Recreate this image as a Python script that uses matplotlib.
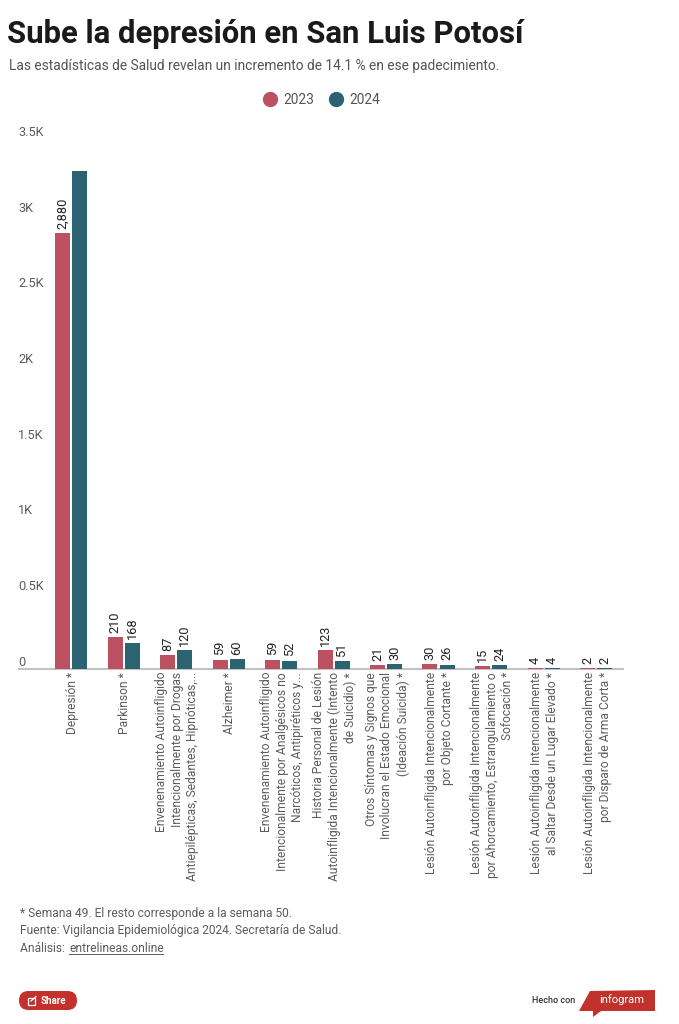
import matplotlib
matplotlib.use('Agg')
import matplotlib.pyplot as plt
from matplotlib.lines import Line2D
from matplotlib.patches import FancyBboxPatch, Polygon, Rectangle
from matplotlib.transforms import ScaledTranslation
import numpy as np

plt.rcParams['font.family'] = ['Roboto', 'DejaVu Sans']

W, H = 679, 1024
RED = '#bc5162'
TEAL = '#2b6372'
GREY = '#5c5c5c'

categories = [
    'Depresión *',
    'Parkinson *',
    'Envenenamiento Autoinfligido\nIntencionalmente por Drogas\nAntiepilépticas, Sedantes, Hipnóticas,...',
    'Alzheimer *',
    'Envenenamiento Autoinfligido\nIntencionalmente por Analgésicos no\nNarcóticos, Antipiréticos y...',
    'Historia Personal de Lesión\nAutoinfligida Intencionalmente (Intento\nde Suicidio) *',
    'Otros Síntomas y Signos que\nInvolucran el Estado Emocional\n(Ideación Suicida) *',
    'Lesión Autoinfligida Intencionalmente\npor Objeto Cortante *',
    'Lesión Autoinfligida Intencionalmente\npor Ahorcamiento, Estrangulamiento o\nSofocación *',
    'Lesión Autoinfligida Intencionalmente\nal Saltar Desde un Lugar Elevado *',
    'Lesión Autoinfligida Intencionalmente\npor Disparo de Arma Corta *',
]
values_2023 = [2880, 210, 87, 59, 59, 123, 21, 30, 15, 4, 2]
values_2024 = [3288, 168, 120, 60, 52, 51, 30, 26, 24, 4, 2]
y_ticks = [0, 500, 1000, 1500, 2000, 2500, 3000, 3500]
y_labels = ['0', '0.5K', '1K', '1.5K', '2K', '2.5K', '3K', '3.5K']


def fx(px):
    return px / W


def fy(py):
    return 1 - py / H


fig = plt.figure(figsize=(W / 100, H / 100), dpi=100, facecolor='white')

# chart area, baseline at y=668.5, 3.5K at y=139
ax = fig.add_axes([fx(19), fy(668.5), 604 / W, 529.5 / H])
x = np.arange(len(categories))
bw = 15 / 52.5
off = 8.5 / 52.5
b1 = ax.bar(x - off, values_2023, bw, color=RED, zorder=3)
b2 = ax.bar(x + off, values_2024, bw, color=TEAL, zorder=3)
ax.set_xlim(-52 / 52.5, 552 / 52.5)
ax.set_ylim(0, 3500)

# the tallest bar has no label in the original
ax.bar_label(b1, labels=[f'{v:,}' for v in values_2023], rotation=90, padding=3,
             fontsize=9.2, color='#222222')
ax.bar_label(b2, labels=[''] + [f'{v:,}' for v in values_2024[1:]], rotation=90,
             padding=3, fontsize=9.2, color='#222222')

ax.set_xticks(x)
ax.set_xticklabels(categories, rotation=90, ha='center', va='top',
                   multialignment='right', fontsize=8.65, color=GREY,
                   linespacing=1.27)
ax.tick_params(axis='x', length=0, pad=2.5)
# nudge the rotated labels one pixel right
nudge = ScaledTranslation(1.2 / 100, 0, fig.dpi_scale_trans)
for lab in ax.get_xticklabels():
    lab.set_transform(lab.get_transform() + nudge)
ax.set_yticks(y_ticks)
ax.set_yticklabels(y_labels, fontsize=9.2, color=GREY)
ax.tick_params(axis='y', length=0, pad=0.7)
for lab in ax.get_yticklabels():
    lab.set_ha('left')
    lab.set_va('bottom')
for s in ['top', 'left', 'right']:
    ax.spines[s].set_visible(False)
ax.spines['bottom'].set_color('#c2c2c2')
ax.spines['bottom'].set_linewidth(1.5)

fig.text(fx(7), fy(43), 'Sube la depresión en San Luis Potosí', fontsize=22.4,
         fontweight='bold', color='#1a1a1a', va='baseline')
fig.text(fx(9), fy(70), 'Las estadísticas de Salud revelan un incremento de 14.1 % en ese padecimiento.',
         fontsize=9.95, color='#555555', va='baseline')

handles = [Line2D([], [], ls='', marker='o', ms=10, color=RED),
           Line2D([], [], ls='', marker='o', ms=10, color=TEAL)]
fig.legend(handles, ['2023', '2024'], ncols=2, frameon=False, loc='center',
           bbox_to_anchor=(fx(318), fy(99.5)), fontsize=9.95, labelcolor='#555555',
           handletextpad=0.0, columnspacing=0.55)

fig.text(fx(20), fy(917), '* Semana 49. El resto corresponde a la semana 50.',
         fontsize=8.65, color=GREY, va='baseline')
fig.text(fx(20), fy(934), 'Fuente: Vigilancia Epidemiológica 2024. Secretaría de Salud.',
         fontsize=8.65, color=GREY, va='baseline')
fig.text(fx(20), fy(952), 'Análisis: ', fontsize=8.65, color=GREY, va='baseline')
fig.text(fx(69), fy(952), 'entrelineas.online', fontsize=8.65, color=GREY, va='baseline')

# footer decorations, in pixel coordinates
deco = fig.add_axes([0, 0, 1, 1], facecolor='none', zorder=-1)
deco.set_xlim(0, W)
deco.set_ylim(H, 0)
deco.axis('off')
deco.plot([69, 163], [954, 954], color=GREY, lw=0.7)
deco.add_patch(FancyBboxPatch((19, 991), 58, 19, boxstyle='round,pad=0,rounding_size=9.5',
                              mutation_aspect=1, fc='#c4302b', ec='none'))
deco.add_patch(Rectangle((27.5, 998), 7, 6.5, fc='none', ec='white', lw=0.9))
deco.plot([31, 36], [1001, 996.5], color='white', lw=0.9)
deco.text(41, 1000.5, 'Share', fontsize=7, fontweight='bold', color='white',
          va='center')
deco.text(532, 1000.5, 'Hecho con', fontsize=6.5, fontweight='medium', color='#333333',
          va='center')
deco.add_patch(Polygon([(579, 1011), (590, 991), (655, 990), (655, 1011), (601, 1011),
                        (593, 1017), (593, 1011)], fc='#c0322b', ec='none'))
deco.text(599, 1000, 'infogram', fontsize=8, color='white', va='center')

fig.savefig('out.png', dpi=100)
